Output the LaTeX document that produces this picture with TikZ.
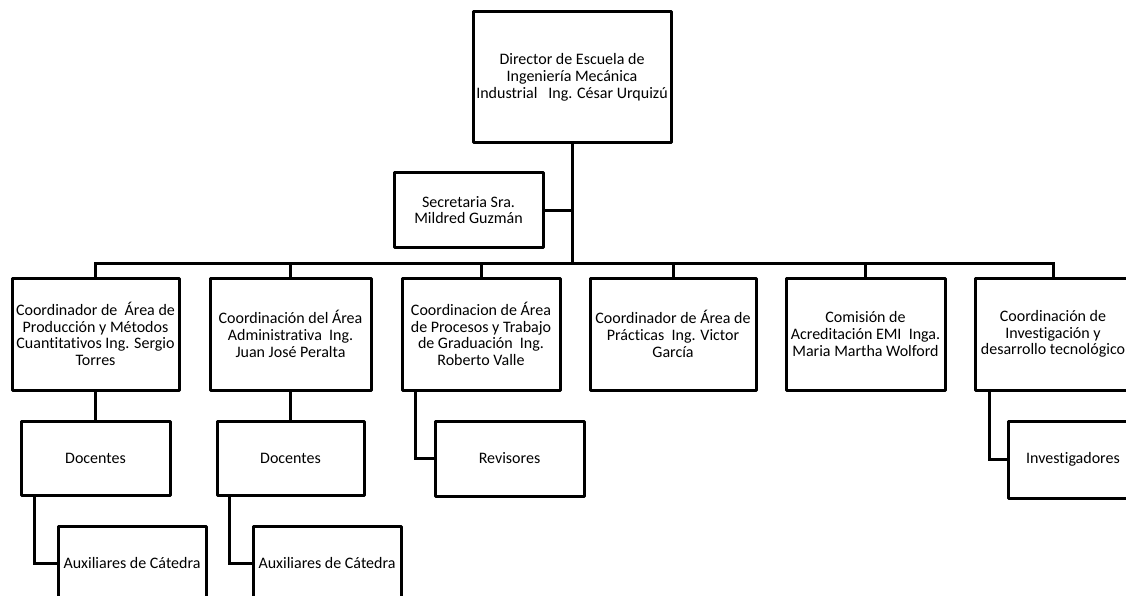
\documentclass[tikz,border=0pt]{standalone}
\usepackage{fontspec}
\setmainfont{Carlito}[Ligatures=CommonOff]
\begin{document}
\begin{tikzpicture}[x=1pt,y=-1pt,
  box/.style={draw=black,line width=3pt,line join=round,fill=white,align=center,inner sep=1pt,
    font=\fontsize{16}{16.7}\selectfont,text=black},
  conn/.style={draw=black,line width=3pt,line join=miter}]
\clip (0,0) rectangle (1126,596);
\fill[white] (0,0) rectangle (1126,596);
% nodes
\node[box,minimum width=198pt,minimum height=131pt] (dir) at (572,77.5)
  {Director de Escuela de\\Ingeniería Mecánica\\Industrial\ \ \ Ing. César Urquizú};
\node[box,minimum width=149pt,minimum height=74pt] (sec) at (468.5,210)
  {Secretaria Sra.\\Mildred Guzmán};
\node[box,minimum width=167pt,minimum height=112pt] (b1) at (95.5,334)
  {Coordinador de\ \ Área de\\Producción y Métodos\\Cuantitativos Ing. Sergio\\Torres};
\node[box,minimum width=161pt,minimum height=112pt] (b2) at (290.5,334)
  {Coordinación del Área\\Administrativa\ \ Ing.\\Juan José Peralta};
\node[box,minimum width=158pt,minimum height=112pt] (b3) at (481,334)
  {Coordinacion de Área\\de Procesos y Trabajo\\de Graduación\ \ Ing.\\Roberto Valle};
\node[box,minimum width=166pt,minimum height=112pt] (b4) at (673,334)
  {Coordinador de Área de\\Prácticas\ \ Ing. Victor\\García};
\node[box,minimum width=159pt,minimum height=112pt] (b5) at (865.5,334)
  {Comisión de\\Acreditación EMI\ \ Inga.\\Maria Martha Wolford};
\node[box,minimum width=156pt,minimum height=112pt] (b6) at (1053,334)
  {Coordinación de\\Investigación y\\desarrollo tecnológico};
\node[box,minimum width=149pt,minimum height=74pt] (d1) at (95.5,458) {Docentes};
\node[box,minimum width=147pt,minimum height=74pt] (d2) at (290.5,458) {Docentes};
\node[box,minimum width=149pt,minimum height=75pt] (rev) at (509.5,458.5) {Revisores};
\node[box,minimum width=130pt,minimum height=77pt] (inv) at (1073,459.5) {Investigadores};
\node[box,minimum width=148pt,minimum height=74pt] (a1) at (132,563) {Auxiliares de Cátedra};
\node[box,minimum width=148pt,minimum height=74pt] (a2) at (327,563) {Auxiliares de Cátedra};
\coordinate (bus) at (572,263);
% connectors
\draw[conn] (dir.south) -- (bus);
\draw[conn] (sec.east) -- (sec.east -| dir.south);
\draw[conn] (b1.north) |- (bus) -| (b6.north);
\draw[conn] (b2.north) -- (b2.north |- bus);
\draw[conn] (b3.north) -- (b3.north |- bus);
\draw[conn] (b4.north) -- (b4.north |- bus);
\draw[conn] (b5.north) -- (b5.north |- bus);
\draw[conn] (b1.south) -- (d1.north);
\draw[conn] (b2.south) -- (d2.north);
\draw[conn] ([xshift=15pt]d1.south west) |- (a1.west);
\draw[conn] ([xshift=14pt]d2.south west) |- (a2.west);
\draw[conn] ([xshift=15pt]b3.south west) |- (rev.west);
\draw[conn] ([xshift=16pt]b6.south west) |- (inv.west);
\end{tikzpicture}
\end{document}
